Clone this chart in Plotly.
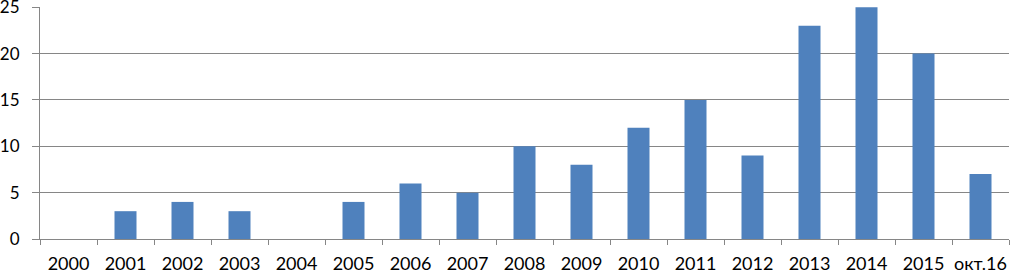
import plotly.graph_objects as go

categories = ["2000", "2001", "2002", "2003", "2004", "2005", "2006", "2007", "2008",
              "2009", "2010", "2011", "2012", "2013", "2014", "2015", "окт.16"]
values = [0, 3, 4, 3, 0, 4, 6, 5, 10, 8, 12, 15, 9, 23, 25, 20, 7]
y_ticks = [0, 5, 10, 15, 20, 25]

fig = go.Figure(go.Bar(x=categories, y=values, marker=dict(color="#4F81BD", line=dict(width=0))))

axis_color = "#868686"
font = dict(family="Lato", size=18, color="#000000")
yfont = dict(family="Lato", size=17, color="#000000")

fig.update_layout(
    width=1010, height=273,
    margin=dict(l=40, r=1, t=7, b=34),
    paper_bgcolor="white", plot_bgcolor="white",
    bargap=0.614,
    showlegend=False,
    font=font,
)
fig.update_xaxes(
    type="category", automargin=False, tickangle=0,
    showline=True, linecolor=axis_color, linewidth=1,
    ticks="outside", tickson="boundaries", ticklen=5, tickcolor=axis_color,
    showgrid=False, tickfont=font, ticklabelstandoff=8,
)
fig.update_yaxes(
    range=[0, 25.03], tickvals=y_ticks, automargin=False,
    showline=True, linecolor=axis_color, linewidth=1,
    ticks="outside", ticklen=7, tickcolor=axis_color,
    showgrid=True, gridcolor=axis_color, gridwidth=1,
    zeroline=False, tickfont=yfont, ticklabelstandoff=9,
    ticklabeloverflow="allow",
)

fig.write_html(
    "out.html",
    config={"displayModeBar": False},
    post_script="document.body.style.margin='0';document.body.style.overflow='hidden';",
)
